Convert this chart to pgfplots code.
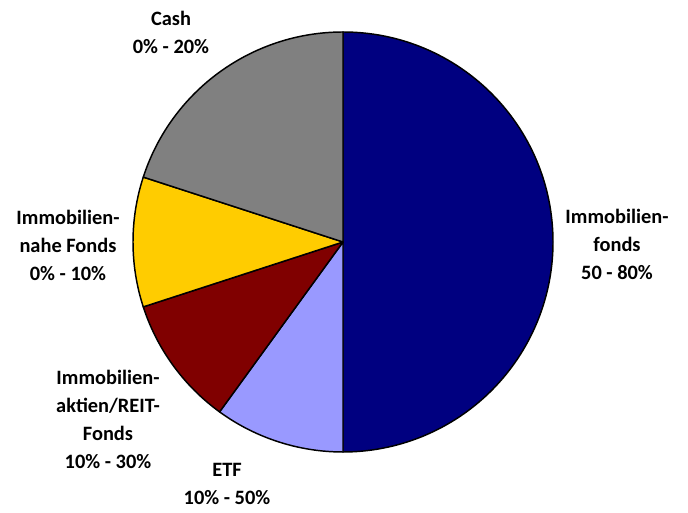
\documentclass[border=0pt]{standalone}
\usepackage{fontspec}
\setmainfont{Carlito}
\usepackage{pgfplots}
\usepackage{pgfplotstable}
\pgfplotsset{compat=1.18}

\definecolor{cFonds}{RGB}{0,0,128}
\definecolor{cETF}{RGB}{153,153,255}
\definecolor{cAktien}{RGB}{128,0,0}
\definecolor{cNahe}{RGB}{255,204,0}
\definecolor{cCash}{RGB}{128,128,128}

\tikzset{lbl/.style={font=\bfseries\fontsize{15.3}{21}\selectfont, align=center, inner sep=0pt}}

% Anteile in %, im Uhrzeigersinn ab 12 Uhr
\pgfplotstableread[col sep=comma]{
share,color
50,cFonds
10,cETF
10,cAktien
10,cNahe
20,cCash
}\piedata

\begin{document}
\begin{tikzpicture}
\begin{axis}[
    x=0.75pt, y=0.75pt,
    xmin=-343, xmax=345,
    ymin=-271, ymax=242,
    hide axis,
    clip=false,
  ]
  \path (axis cs:-343,-271) rectangle (axis cs:345,242);
  \gdef\startang{90}
  \pgfplotsforeachungrouped \i in {0,...,4}{
    \pgfplotstablegetelem{\i}{share}\of\piedata \let\s\pgfplotsretval
    \pgfplotstablegetelem{\i}{color}\of\piedata \let\c\pgfplotsretval
    \pgfmathsetmacro\endang{\startang-3.6*\s}
    \edef\cmd{\noexpand\filldraw[fill=\c, draw=black, line width=1.1pt, line join=round]
      (axis cs:0,0) -- ++(\startang:157.5pt)
      arc[start angle=\startang, end angle=\endang, radius=157.5pt] -- cycle;}
    \cmd
    \global\let\startang\endang
  }
  \node[lbl] at (axis cs:274,-2) {Immobilien-\\fonds\\50 - 80\%};
  \node[lbl] at (axis cs:-116,-242) {ETF\\10\% - 50\%};
  \node[lbl] at (axis cs:-235,-177) {Immobilien-\\aktien/REIT-\\Fonds\\10\% - 30\%};
  \node[lbl] at (axis cs:-275,-3) {Immobilien-\\nahe Fonds\\0\% - 10\%};
  \node[lbl] at (axis cs:-172,210) {Cash\\0\% - 20\%};
\end{axis}
\end{tikzpicture}
\end{document}
